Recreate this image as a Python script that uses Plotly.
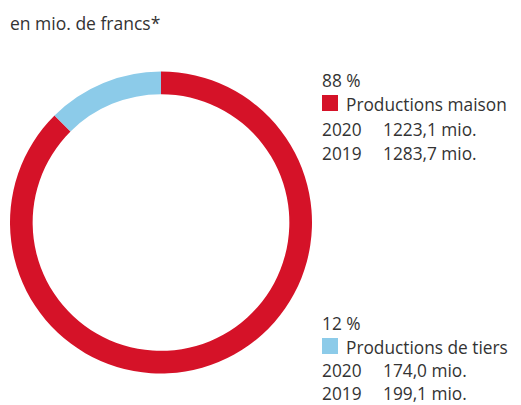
import plotly.graph_objects as go

categories = ["Productions maison", "Productions de tiers"]
values_2020 = [1223.1, 174.0]
values_2019 = [1283.7, 199.1]
percent_labels = ["88 %", "12 %"]
value_labels_2020 = ["1223,1 mio.", "174,0 mio."]
value_labels_2019 = ["1283,7 mio.", "199,1 mio."]
colors = ["#D51228", "#8CCBE9"]
title_text = "en mio. de francs*"

W, H = 521, 405
FONT = "Open Sans"
TXT = "#333333"
FS = 17.3

fig = go.Figure()
fig.add_trace(go.Pie(
    labels=categories,
    values=values_2020,
    hole=0.85,
    sort=False,
    direction="clockwise",
    rotation=0,
    marker=dict(colors=colors, line=dict(width=0)),
    textinfo="none",
    hoverinfo="label+value",
    showlegend=False,
    domain=dict(x=[10 / W, 312 / W], y=[1 - 374 / H, 1 - 71 / H]),
))

def px(x):
    return x / W

def py(y):
    return 1 - y / H

annotations = [
    dict(text=title_text, x=px(8), y=py(23), xanchor="left", yanchor="middle",
         showarrow=False, font=dict(size=17.5, color=TXT, family=FONT)),
]
shapes = []
# vertical positions (px from top) of: percent line, legend line, 2020 line, 2019 line
block_rows = [[80.5, 104, 129, 153], [323, 347, 370.5, 393.5]]
for i, cat in enumerate(categories):
    rows = block_rows[i]
    annotations.append(dict(text=percent_labels[i], x=px(320), y=py(rows[0]), xanchor="left",
                            yanchor="middle", showarrow=False,
                            font=dict(size=FS, color=TXT, family=FONT)))
    annotations.append(dict(text=cat, x=px(344), y=py(rows[1]), xanchor="left",
                            yanchor="middle", showarrow=False,
                            font=dict(size=FS, color=TXT, family=FONT)))
    shapes.append(dict(type="rect", xref="paper", yref="paper",
                       x0=px(322), x1=px(338), y0=py(rows[1] + 7), y1=py(rows[1] - 9),
                       fillcolor=colors[i], line=dict(width=0)))
    for j, (yr, lab) in enumerate([("2020", value_labels_2020[i]), ("2019", value_labels_2019[i])]):
        yy = rows[2 + j]
        annotations.append(dict(text=yr, x=px(320), y=py(yy), xanchor="left", yanchor="middle",
                                showarrow=False, font=dict(size=FS, color=TXT, family=FONT)))
        annotations.append(dict(text=lab, x=px(381), y=py(yy), xanchor="left", yanchor="middle",
                                showarrow=False, font=dict(size=FS, color=TXT, family=FONT)))

fig.update_layout(
    width=W, height=H,
    margin=dict(l=0, r=0, t=0, b=0),
    paper_bgcolor="white", plot_bgcolor="white",
    annotations=annotations, shapes=shapes,
)
fig.write_html("out.html", config={"displayModeBar": False},
               post_script="document.body.style.margin='0';document.body.style.overflow='hidden';")
